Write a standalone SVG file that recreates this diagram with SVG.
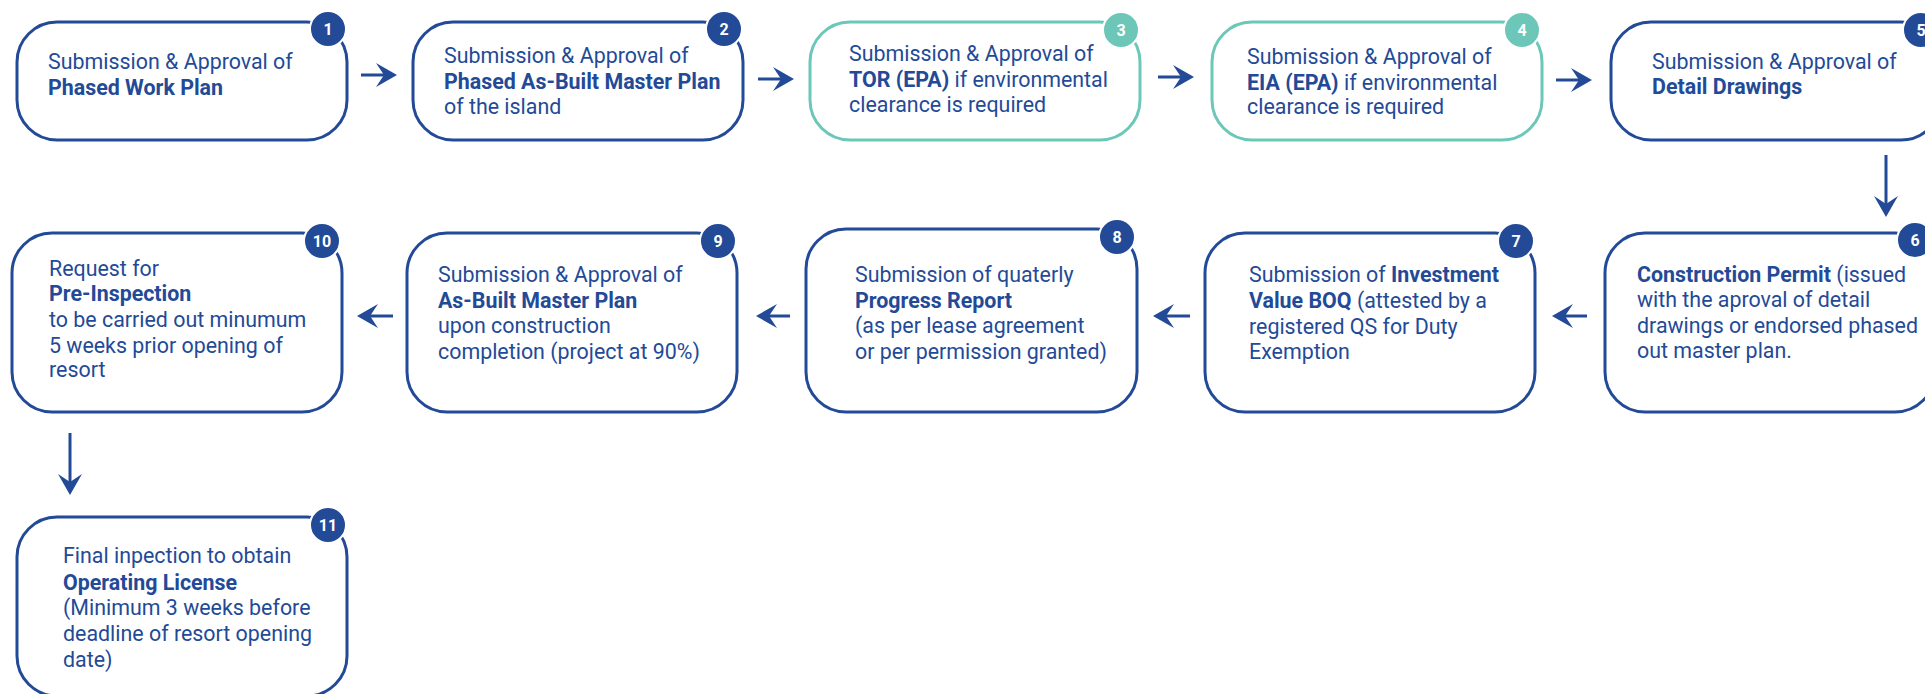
<svg xmlns="http://www.w3.org/2000/svg" width="1925" height="694" viewBox="0 0 1925 694">
<style>
.box{fill:#fff;stroke:#234a97;stroke-width:3}
.teal{stroke:#6cc7b9}
.bd{fill:#234a97;stroke:#fff;stroke-width:2}
.bdt{fill:#6cc7b9;stroke:#fff;stroke-width:2}
.num{font-family:Roboto,"Liberation Sans",sans-serif;font-weight:700;font-size:16px;fill:#fff;text-anchor:middle}
.t{font-family:Roboto,"Liberation Sans",sans-serif;font-size:21.4px;fill:#234a97}
.b{font-weight:700}
.c{fill:none;stroke:#234a97;stroke-width:3}
</style>
<defs>
<marker id="ah" viewBox="0 0 21 24" refX="8" refY="12" markerWidth="21" markerHeight="24" markerUnits="userSpaceOnUse" orient="auto">
<path d="M0,0 L21,12 L0,24 L8,12 Z" fill="#234a97"/>
</marker>
</defs>
<rect width="1925" height="694" fill="#fff"/>
<g id="connectors">
<line class="c" x1="361" y1="75" x2="384" y2="75" marker-end="url(#ah)"/>
<line class="c" x1="758" y1="79" x2="781" y2="79" marker-end="url(#ah)"/>
<line class="c" x1="1158" y1="77" x2="1181" y2="77" marker-end="url(#ah)"/>
<line class="c" x1="1556" y1="80" x2="1579" y2="80" marker-end="url(#ah)"/>
<line class="c" x1="1886" y1="155" x2="1886" y2="204" marker-end="url(#ah)"/>
<line class="c" x1="1587" y1="316" x2="1565" y2="316" marker-end="url(#ah)"/>
<line class="c" x1="1190" y1="316" x2="1166" y2="316" marker-end="url(#ah)"/>
<line class="c" x1="790" y1="316" x2="769" y2="316" marker-end="url(#ah)"/>
<line class="c" x1="393" y1="316" x2="370" y2="316" marker-end="url(#ah)"/>
<line class="c" x1="70" y1="433" x2="70" y2="482" marker-end="url(#ah)"/>
</g>
<g id="node1">
<rect class="box" x="17" y="22" width="330" height="118" rx="40"/>
<circle class="bd" cx="328" cy="29" r="18"/><text class="num" x="328" y="34.8">1</text>
<text class="t" x="48" y="69">Submission &amp; Approval of</text>
<text class="t b" x="48" y="95">Phased Work Plan</text>
</g>
<g id="node2">
<rect class="box" x="413" y="22" width="330" height="118" rx="40"/>
<circle class="bd" cx="724" cy="29" r="18"/><text class="num" x="724" y="34.8">2</text>
<text class="t" x="444" y="63">Submission &amp; Approval of</text>
<text class="t b" x="444" y="89">Phased As-Built Master Plan</text>
<text class="t" x="444" y="114">of the island</text>
</g>
<g id="node3">
<rect class="box teal" x="810" y="22" width="330" height="118" rx="40"/>
<circle class="bdt" cx="1121" cy="30" r="18"/><text class="num" x="1121" y="35.8">3</text>
<text class="t" x="849" y="61">Submission &amp; Approval of</text>
<text class="t" x="849" y="87"><tspan class="b">TOR (EPA)</tspan> if environmental</text>
<text class="t" x="849" y="112">clearance is required</text>
</g>
<g id="node4">
<rect class="box teal" x="1212" y="22" width="330" height="118" rx="40"/>
<circle class="bdt" cx="1522" cy="30" r="18"/><text class="num" x="1522" y="35.8">4</text>
<text class="t" x="1247" y="64">Submission &amp; Approval of</text>
<text class="t" x="1247" y="90"><tspan class="b">EIA (EPA)</tspan> if environmental</text>
<text class="t" x="1247" y="114">clearance is required</text>
</g>
<g id="node5">
<rect class="box" x="1611" y="22" width="330" height="118" rx="40"/>
<circle class="bd" cx="1921" cy="30" r="18"/><text class="num" x="1921" y="35.8">5</text>
<text class="t" x="1652" y="69">Submission &amp; Approval of</text>
<text class="t b" x="1652" y="94">Detail Drawings</text>
</g>
<g id="node6">
<rect class="box" x="1605" y="233" width="330" height="179" rx="40"/>
<circle class="bd" cx="1915" cy="240" r="18"/><text class="num" x="1915" y="245.8">6</text>
<text class="t" x="1637" y="282"><tspan class="b">Construction Permit</tspan> (issued</text>
<text class="t" x="1637" y="307">with the aproval of detail</text>
<text class="t" x="1637" y="333">drawings or endorsed phased</text>
<text class="t" x="1637" y="358">out master plan.</text>
</g>
<g id="node7">
<rect class="box" x="1205" y="233" width="330" height="179" rx="40"/>
<circle class="bd" cx="1516" cy="241" r="18"/><text class="num" x="1516" y="246.8">7</text>
<text class="t" x="1249" y="282">Submission of <tspan class="b">Investment</tspan></text>
<text class="t" x="1249" y="308"><tspan class="b">Value BOQ</tspan> (attested by a</text>
<text class="t" x="1249" y="334">registered QS for Duty</text>
<text class="t" x="1249" y="359">Exemption</text>
</g>
<g id="node8">
<rect class="box" x="806" y="229" width="331" height="183" rx="40"/>
<circle class="bd" cx="1117" cy="237" r="18"/><text class="num" x="1117" y="242.8">8</text>
<text class="t" x="855" y="282">Submission of quaterly</text>
<text class="t b" x="855" y="308">Progress Report</text>
<text class="t" x="855" y="333">(as per lease agreement</text>
<text class="t" x="855" y="359">or per permission granted)</text>
</g>
<g id="node9">
<rect class="box" x="407" y="233" width="330" height="179" rx="40"/>
<circle class="bd" cx="718" cy="241" r="18"/><text class="num" x="718" y="246.8">9</text>
<text class="t" x="438" y="282">Submission &amp; Approval of</text>
<text class="t b" x="438" y="308">As-Built Master Plan</text>
<text class="t" x="438" y="333">upon construction</text>
<text class="t" x="438" y="359">completion (project at 90%)</text>
</g>
<g id="node10">
<rect class="box" x="12" y="233" width="330" height="179" rx="40"/>
<circle class="bd" cx="322" cy="241" r="18"/><text class="num" x="322" y="246.8">10</text>
<text class="t" x="49" y="276">Request for</text>
<text class="t b" x="49" y="301">Pre-Inspection</text>
<text class="t" x="49" y="327">to be carried out minumum</text>
<text class="t" x="49" y="353">5 weeks prior opening of</text>
<text class="t" x="49" y="377">resort</text>
</g>
<g id="node11">
<rect class="box" x="17" y="517" width="330" height="179" rx="40"/>
<circle class="bd" cx="328" cy="525" r="18"/><text class="num" x="328" y="530.8">11</text>
<text class="t" x="63" y="563">Final inpection to obtain</text>
<text class="t b" x="63" y="590">Operating License</text>
<text class="t" x="63" y="615">(Minimum 3 weeks before</text>
<text class="t" x="63" y="641">deadline of resort opening</text>
<text class="t" x="63" y="667">date)</text>
</g>
</svg>
